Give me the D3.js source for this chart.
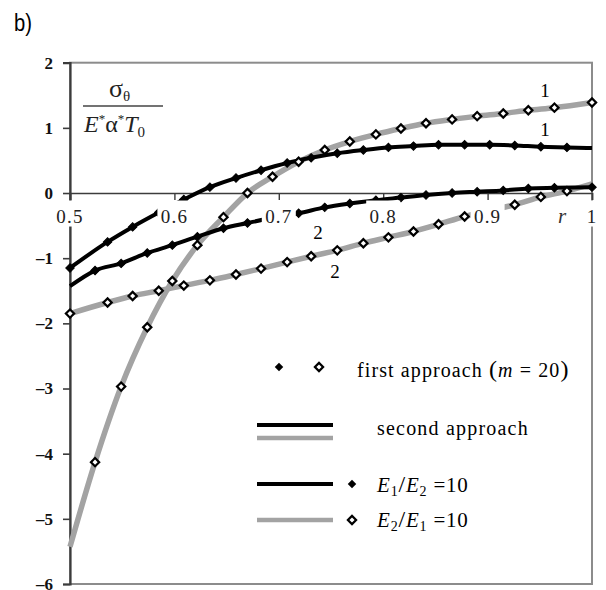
<!DOCTYPE html>
<html>
<head>
<meta charset="utf-8">
<script src="https://cdn.jsdelivr.net/npm/d3@7"></script>
<style>
  body { margin: 0; background: #fff; }
  svg { display: block; }
</style>
</head>
<body>
<script>
// Axis ticks
var xTicks = [0.5, 0.6, 0.7, 0.8, 0.9, 1];
var yTicks = [2, 1, 0, -1, -2, -3, -4, -5, -6];

// r positions of the markers (first approach), two interleaved sets
var rSetA = [0.500, 0.536, 0.560, 0.585, 0.609, 0.634, 0.659, 0.683, 0.708, 0.731,
             0.756, 0.781, 0.805, 0.829, 0.853, 0.878, 0.902, 0.926, 0.951, 0.976];
var rSetB = [0.524, 0.549, 0.574, 0.598, 0.622, 0.647, 0.670, 0.694, 0.719, 0.744,
             0.768, 0.793, 0.817, 0.841, 0.866, 0.890, 0.915, 0.939, 0.964, 1.000];

// E1/E2 = 10 (black), curve 1 on set A, curve 2 on set B
var black1 = [-1.15, -0.75, -0.52, -0.30, -0.10, 0.09, 0.23, 0.35, 0.46, 0.54,
              0.61, 0.66, 0.70, 0.72, 0.74, 0.74, 0.74, 0.73, 0.71, 0.70];
var black2 = [-1.19, -1.08, -0.92, -0.80, -0.67, -0.54, -0.46, -0.38, -0.31, -0.22,
              -0.16, -0.11, -0.07, -0.03, 0.00, 0.02, 0.04, 0.07, 0.08, 0.09];
// E2/E1 = 10 (grey), curve 1 on set B, curve 2 on set A
var grey1 = [-4.13, -2.97, -2.06, -1.35, -0.80, -0.37, 0.00, 0.25, 0.48, 0.66,
             0.79, 0.90, 0.99, 1.07, 1.13, 1.18, 1.22, 1.27, 1.31, 1.39];
var grey2 = [-1.85, -1.68, -1.58, -1.50, -1.42, -1.34, -1.25, -1.16, -1.06, -0.97,
             -0.88, -0.77, -0.68, -0.59, -0.48, -0.36, -0.27, -0.18, -0.06, 0.03];

// second approach: values of the lines at r = 0.5 and r = 1
var edgeBlack1 = [-1.15, 0.69];
var edgeBlack2 = [-1.43, 0.09];
var edgeGrey1  = [-5.43, 1.39];
var edgeGrey2  = [-1.85, 0.14];

var width = 606, height = 590;

var svg = d3.select("body").append("svg")
    .attr("width", width)
    .attr("height", height)
    .style("font-family", "'Liberation Serif', 'Times New Roman', serif");

var x = d3.scaleLinear().domain([0.5, 1]).range([70, 592]);
var y = d3.scaleLinear().domain([-6, 2]).range([584, 62.7]);

// join marker values with line end values, sorted by r
function linePoints(rs, vals, edge) {
  var pts = rs.map(function(r, i) { return [r, vals[i]]; });
  if (pts[0][0] > 0.5) pts.unshift([0.5, edge[0]]);
  if (pts[pts.length - 1][0] < 1) pts.push([1, edge[1]]);
  return pts;
}

// "b)" panel letter
svg.append("text")
    .attr("x", 14).attr("y", 31)
    .style("font-family", "'Liberation Sans', Arial, sans-serif")
    .style("font-size", "23px")
    .attr("transform", "translate(14,31) scale(0.88,1.05) translate(-14,-31)")
    .text("b)");

// plot frame
svg.append("rect")
    .attr("x", x(0.5)).attr("y", y(2))
    .attr("width", x(1) - x(0.5)).attr("height", y(-6) - y(2))
    .attr("fill", "none").attr("stroke", "#8c8c8c").attr("stroke-width", 2);

// y axis
var yAxis = d3.axisLeft(y)
    .tickValues(yTicks)
    .tickSize(7)
    .tickPadding(10)
    .tickFormat(function(d) { return d < 0 ? "\u2013" + Math.abs(d) : d; });

var gy = svg.append("g").attr("transform", "translate(" + x(0.5) + ",0)").call(yAxis);
gy.attr("font-family", null);
gy.select(".domain").attr("stroke", "#3c3c3c").attr("stroke-width", 2.2);
gy.selectAll(".tick line").attr("stroke", "#3c3c3c").attr("stroke-width", 1.6);
gy.selectAll(".tick text")
    .style("font-family", "'Liberation Serif', serif")
    .style("font-weight", "bold")
    .style("font-size", "17px")
    .attr("fill", "#111");

// x axis along y = 0
var xAxis = d3.axisBottom(x).tickValues(xTicks).tickSize(7).tickFormat("");
var gx = svg.append("g").attr("transform", "translate(0," + y(0) + ")").call(xAxis);
gx.select(".domain").attr("stroke", "#3c3c3c").attr("stroke-width", 1.6);
gx.selectAll(".tick line").attr("stroke", "#3c3c3c").attr("stroke-width", 1.4);

// lines (second approach)
var line = d3.line()
    .x(function(d) { return x(d[0]); })
    .y(function(d) { return y(d[1]); })
    .curve(d3.curveMonotoneX);

var greyLines = [linePoints(rSetB, grey1, edgeGrey1), linePoints(rSetA, grey2, edgeGrey2)];
var blackLines = [linePoints(rSetA, black1, edgeBlack1), linePoints(rSetB, black2, edgeBlack2)];

svg.append("g").selectAll("path")
    .data(greyLines)
    .enter().append("path")
    .attr("d", line)
    .attr("fill", "none")
    .attr("stroke", "#a3a3a3")
    .attr("stroke-width", 5.5);

svg.append("g").selectAll("path")
    .data(blackLines)
    .enter().append("path")
    .attr("d", line)
    .attr("fill", "none")
    .attr("stroke", "#000")
    .attr("stroke-width", 4);

// markers (first approach)
var filledSym = d3.symbol().type(d3.symbolSquare).size(36);
var openSym = d3.symbol().type(d3.symbolSquare).size(34);

function drawMarkers(rs, vals, open) {
  svg.append("g").selectAll("path")
      .data(rs.map(function(r, i) { return [r, vals[i]]; }))
      .enter().append("path")
      .attr("d", open ? openSym : filledSym)
      .attr("transform", function(d) { return "translate(" + x(d[0]) + "," + y(d[1]) + ") rotate(45)"; })
      .attr("fill", open ? "#fff" : "#000")
      .attr("stroke", "#000")
      .attr("stroke-width", open ? 2.2 : 1);
}
drawMarkers(rSetA, grey2, true);
drawMarkers(rSetB, grey1, true);
drawMarkers(rSetA, black1, false);
drawMarkers(rSetB, black2, false);

// x tick labels on white boxes (they hide the curves behind them)
var xl = svg.append("g").selectAll("g")
    .data(xTicks)
    .enter().append("g")
    .attr("transform", function(d) { return "translate(" + x(d) + "," + y(0) + ")"; });
xl.append("rect")
    .attr("x", -17).attr("y", 7.5)
    .attr("width", 34).attr("height", 26)
    .attr("fill", "#fff");
xl.append("text")
    .attr("y", 30)
    .attr("text-anchor", "middle")
    .style("font-size", "19px")
    .style("letter-spacing", "1.2px")
    .attr("fill", "#222")
    .text(function(d) { return d; });

svg.append("text")
    .attr("x", 562).attr("y", y(0) + 30)
    .attr("text-anchor", "middle")
    .style("font-size", "21px")
    .style("font-style", "italic")
    .attr("fill", "#333")
    .text("r");

// curve numbers
var curveLabels = [["1", 545, 97], ["1", 545, 136], ["2", 318, 239], ["2", 335, 278]];
svg.append("g").selectAll("text")
    .data(curveLabels)
    .enter().append("text")
    .attr("x", function(d) { return d[1]; })
    .attr("y", function(d) { return d[2]; })
    .attr("text-anchor", "middle")
    .style("font-size", "19px")
    .text(function(d) { return d[0]; });

// y axis quantity: sigma_theta / (E* alpha* T0)
var num = svg.append("text").attr("x", 109).attr("y", 97).style("font-size", "26px").attr("fill", "#222");
num.append("tspan").text("\u03c3");
num.append("tspan").attr("dy", 4).style("font-size", "15px").text("\u03b8");

svg.append("line")
    .attr("x1", 83).attr("x2", 163)
    .attr("y1", 106).attr("y2", 106)
    .attr("stroke", "#444").attr("stroke-width", 1.4);

var den = svg.append("text").attr("x", 84).attr("y", 132).style("font-size", "24px").attr("fill", "#222");
den.append("tspan").style("font-style", "italic").text("E");
den.append("tspan").attr("dy", -9).style("font-size", "13px").text("*");
den.append("tspan").attr("dy", 9).text("\u03b1");
den.append("tspan").attr("dy", -9).style("font-size", "13px").text("*");
den.append("tspan").attr("dy", 9).style("font-style", "italic").text("T");
den.append("tspan").attr("dy", 5).style("font-size", "15px").text("0");

// legend
var leg = svg.append("g");
leg.append("path").attr("d", filledSym).attr("transform", "translate(279,367) rotate(45)").attr("fill", "#000");
leg.append("path").attr("d", openSym).attr("transform", "translate(319,367) rotate(45)")
    .attr("fill", "#fff").attr("stroke", "#000").attr("stroke-width", 2.2);

var t1 = leg.append("text").attr("x", 357).attr("y", 377).style("font-size", "20px").style("letter-spacing", "1.1px");
t1.append("tspan").text("first approach ");
t1.append("tspan").style("font-size", "24px").text("(");
t1.append("tspan").style("font-style", "italic").text("m");
t1.append("tspan").text(" = 20");
t1.append("tspan").style("font-size", "24px").text(")");

leg.append("line").attr("x1", 257).attr("x2", 333).attr("y1", 425).attr("y2", 425)
    .attr("stroke", "#000").attr("stroke-width", 4);
leg.append("line").attr("x1", 257).attr("x2", 333).attr("y1", 438).attr("y2", 438)
    .attr("stroke", "#a3a3a3").attr("stroke-width", 4.5);
leg.append("text").attr("x", 377).attr("y", 435).style("font-size", "20px").style("letter-spacing", "1.2px")
    .text("second approach");

leg.append("line").attr("x1", 257).attr("x2", 333).attr("y1", 484).attr("y2", 484)
    .attr("stroke", "#000").attr("stroke-width", 4);
leg.append("path").attr("d", filledSym).attr("transform", "translate(352,484) rotate(45)").attr("fill", "#000");
leg.append("line").attr("x1", 257).attr("x2", 333).attr("y1", 520).attr("y2", 520)
    .attr("stroke", "#a3a3a3").attr("stroke-width", 4.5);
leg.append("path").attr("d", openSym).attr("transform", "translate(352,520) rotate(45)")
    .attr("fill", "#fff").attr("stroke", "#000").attr("stroke-width", 2.2);

function ratioLabel(yy, a, b) {
  var t = leg.append("text").attr("x", 377).attr("y", yy).style("font-size", "21px").style("letter-spacing", "0.8px");
  t.append("tspan").style("font-style", "italic").text("E");
  t.append("tspan").attr("dy", 4).style("font-size", "14px").text(a);
  t.append("tspan").attr("dy", -4).style("font-size", "24px").text("/");
  t.append("tspan").style("font-style", "italic").text("E");
  t.append("tspan").attr("dy", 4).style("font-size", "14px").text(b);
  t.append("tspan").attr("dy", -4).text(" =10");
}
ratioLabel(492, "1", "2");
ratioLabel(527, "2", "1");
</script>
</body>
</html>
